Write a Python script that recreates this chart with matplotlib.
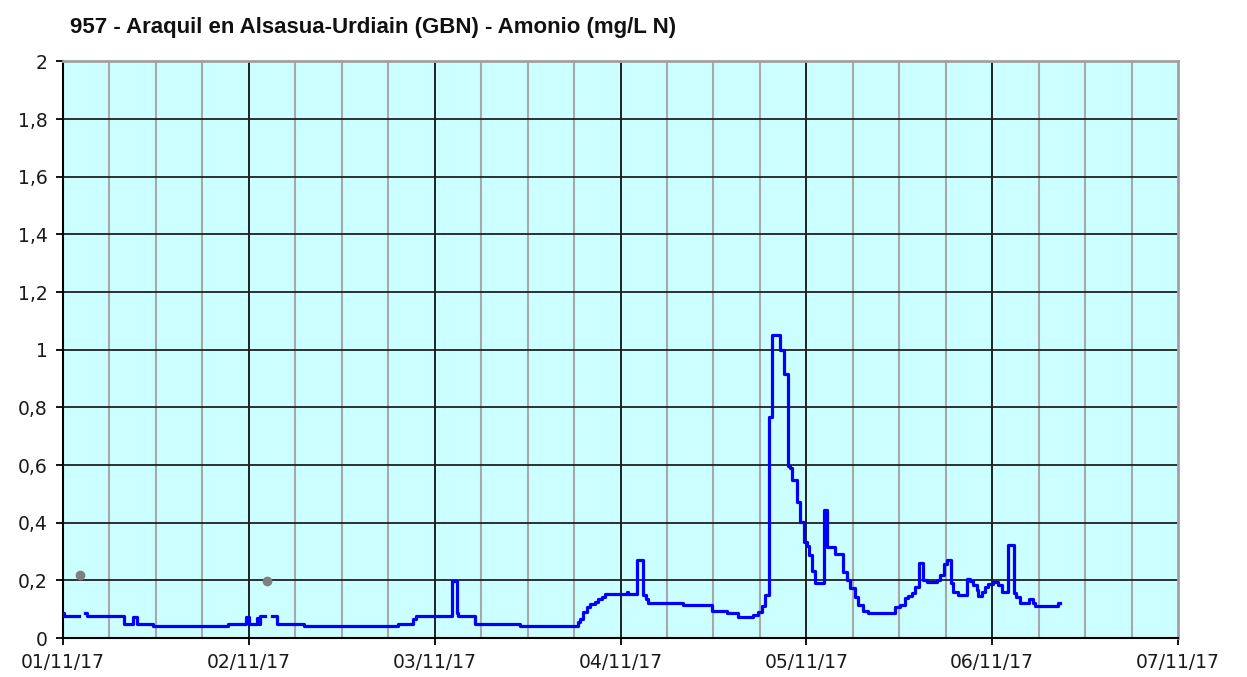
import numpy as np
import matplotlib
matplotlib.use("Agg")
import matplotlib.pyplot as plt

plt.rcParams['font.family'] = ['DejaVu Sans']

# hours since 01/11/17 00:00 and ammonium value (mg/L N), step data
hours = [0.0, 0.13, 2.07, 2.84, 3.1, 7.88, 9.04, 9.5, 11.62, 21.31, 23.63, 24.0,
         25.05, 25.3, 25.44, 26.09, 26.95, 27.64, 31.12, 43.26, 45.2, 45.59,
         50.2, 50.85, 51.0, 53.21, 59.02, 66.51, 66.77, 67.16, 67.67, 68.06,
         68.71, 69.09, 69.57, 70.0, 72.8, 73.0, 74.09, 74.95, 75.3, 75.55,
         80.07, 83.82, 85.75, 87.17, 89.11, 89.76, 90.27, 90.66, 91.18, 91.57,
         92.6, 93.12, 93.63, 93.9, 94.15, 94.8, 95.18, 95.7, 96.09, 96.28,
         96.73, 97.12, 98.28, 98.67, 99.7, 100.74, 101.25, 101.64, 102.29,
         102.67, 103.28, 103.96, 107.45, 108.1, 108.74, 109.13, 109.65, 110.04,
         110.55, 111.07, 111.59, 112.88, 113.26, 113.78, 114.17, 114.68, 114.94,
         115.59, 116.75, 117.14, 117.53, 118.04, 118.17, 118.69, 119.08, 119.46,
         120.11, 120.75, 121.27, 122.05, 122.82, 123.08, 123.6, 124.76, 125.28,
         125.53, 128.5, 128.7]
values = [0.085, 0.075, np.nan, 0.085, 0.075, 0.05, 0.073, 0.05, 0.042, 0.048, 0.072, 0.05,
          0.07, 0.05, 0.075, np.nan, 0.075, 0.05, 0.042, 0.049, 0.065, 0.075,
          0.199, 0.085, 0.075, 0.05, 0.042, 0.055, 0.066, 0.09, 0.107, 0.118,
          0.126, 0.134, 0.141, 0.153, 0.16, 0.153, 0.27, 0.15, 0.134, 0.12,
          0.115, 0.092, 0.086, 0.074, 0.08, 0.09, 0.11, 0.149, 0.768, 1.052,
          1.0, 0.917, 0.595, 0.59, 0.549, 0.473, 0.404, 0.334, 0.32, 0.288,
          0.234, 0.192, 0.444, 0.317, 0.292, 0.23, 0.2, 0.173, 0.142,
          0.115, 0.092, 0.086, 0.107, 0.115, 0.138, 0.146, 0.157, 0.178,
          0.26, 0.2, 0.193, 0.2, 0.219, 0.256, 0.27, 0.19, 0.161,
          0.149, 0.204, 0.197, 0.185, 0.167, 0.146, 0.161, 0.178, 0.187,
          0.196, 0.185, 0.161, 0.323, 0.155, 0.143, 0.12, 0.137, 0.12,
          0.111, 0.123, 0.123]

# lab samples (grey dots)
lab_hours = [2.2, 26.3]
lab_values = [0.217, 0.199]

day_labels = ["01/11/17", "02/11/17", "03/11/17", "04/11/17", "05/11/17", "06/11/17", "07/11/17"]
y_ticks = [0, 0.2, 0.4, 0.6, 0.8, 1, 1.2, 1.4, 1.6, 1.8, 2]

fig = plt.figure(figsize=(12.47, 6.77), dpi=100)
ax = fig.add_axes([63/1247, 1-638/677, (1178-63)/1247, (638-61.5)/677])
ax.set_facecolor("#ccffff")

ax.set_xlim(0, 144)
ax.set_ylim(0, 2)

# grid: grey every 6h, black every day and every 0.2
for h in range(6, 144, 6):
    if h % 24:
        ax.axvline(h, color="#a8a8a8", lw=1.5, zorder=1)
    else:
        ax.axvline(h, color="#101010", lw=1.3, zorder=1)
for v in y_ticks[1:-1]:
    ax.axhline(v, color="#202020", lw=1.3, zorder=1)

ax.plot(hours, values, drawstyle="steps-post", color="#0000ff", lw=2.3, zorder=3)
ax.plot(lab_hours, lab_values, "o", color="#808080", ms=6, zorder=4)

ax.set_xticks(range(0, 145, 24))
ax.set_xticklabels(day_labels)
ax.set_yticks(y_ticks)
ax.set_yticklabels([("%g" % v).replace(".", ",") for v in y_ticks])
ax.tick_params(axis="both", labelsize=13.5, length=5, width=1.3, color="black",
               labelcolor="#1a1a1a")
ax.tick_params(axis="x", pad=6)
ax.tick_params(axis="y", pad=6)

for s in ["left", "bottom"]:
    ax.spines[s].set_color("black")
    ax.spines[s].set_linewidth(1.5)
for s in ["top", "right"]:
    ax.spines[s].set_color("#a0a0a0")
    ax.spines[s].set_linewidth(2)

fig.text(70/1247, 1-28/677, "957 - Araquil en Alsasua-Urdiain (GBN) - Amonio (mg/L N)",
         family=["Liberation Sans", "DejaVu Sans"], fontweight="bold",
         fontsize=16, va="center", ha="left", color="#111111")

fig.savefig("out.png", dpi=100, facecolor="white")
